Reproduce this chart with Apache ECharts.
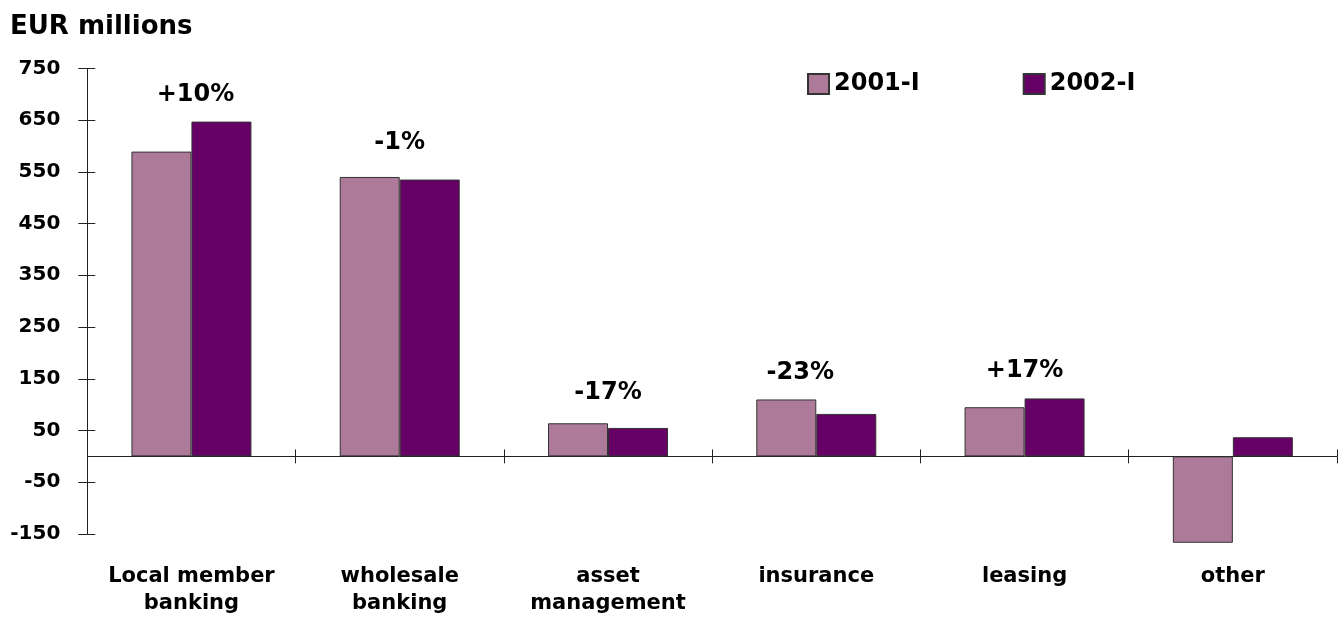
<!DOCTYPE html>
<html>
<head>
<meta charset="utf-8">
<script src="https://cdn.jsdelivr.net/npm/echarts@6/dist/echarts.min.js"></script>
<style>
html,body{margin:0;padding:0;background:#fff;}
#c{width:1344px;height:620px;}
</style>
</head>
<body>
<div id="c"></div>
<script>
const categories = ['Local member\nbanking', 'wholesale\nbanking', 'asset\nmanagement', 'insurance', 'leasing', 'other'];
const series2001 = [589, 540, 64, 110, 95, -167];
const series2002 = [647, 535, 55, 82, 112, 37];
const pctLabels = ['+10%', '-1%', '-17%', '-23%', '+17%', ''];
const pctLabelValues = [698, 607, 123, 161, 166, null];
const seriesNames = ['2001-I', '2002-I'];
const yTicks = { min: -150, max: 750, interval: 100 };

const FONT = 'DejaVu Sans';
const labelOffsets = { 3: [-16, 0], 0: [4, 0] };

const chart = echarts.init(document.getElementById('c'), null, { renderer: 'canvas' });

const pctData = [];
categories.forEach((c, i) => {
  if (pctLabelValues[i] == null) return;
  const item = { value: [i, pctLabelValues[i]], name: pctLabels[i] };
  if (labelOffsets[i]) item.label = { offset: labelOffsets[i] };
  pctData.push(item);
});

const axisCol = '#222';

chart.setOption({
  animation: false,
  backgroundColor: '#fff',
  title: {
    text: 'EUR millions',
    left: 10, top: 14, padding: 0,
    textStyle: { fontFamily: FONT, fontWeight: 'bold', fontSize: 26, color: '#000', lineHeight: 26 }
  },
  legend: {
    data: seriesNames,
    left: 807, top: 72, padding: 0,
    icon: 'rect', itemWidth: 21, itemHeight: 20, itemGap: 103,
    textStyle: { fontFamily: FONT, fontWeight: 'bold', fontSize: 24, color: '#000', lineHeight: 24 }
  },
  grid: { left: 87.3, right: 7, top: 68.3, bottom: 86, containLabel: false, outerBoundsMode: 'none' },
  xAxis: [{
    type: 'category',
    data: categories,
    position: 'bottom',
    boundaryGap: true,
    axisLine: { show: true, onZero: true, lineStyle: { color: axisCol, width: 1 } },
    axisTick: { show: true, length: 7, inside: false, alignWithLabel: false, lineStyle: { color: axisCol } },
    axisLabel: { margin: 29, fontFamily: FONT, fontWeight: 'bold', fontSize: 21, color: '#000', lineHeight: 27, interval: 0, align: 'center' },
    splitLine: { show: false }
  }, {
    type: 'category',
    data: categories,
    position: 'bottom',
    boundaryGap: true,
    axisLine: { show: false, onZero: true },
    axisTick: { show: true, length: 7, inside: true, lineStyle: { color: axisCol } },
    axisLabel: { show: false },
    splitLine: { show: false }
  }],
  yAxis: [{
    type: 'value',
    min: yTicks.min, max: yTicks.max, interval: yTicks.interval,
    position: 'left',
    axisLine: { show: true, onZero: false, lineStyle: { color: axisCol, width: 1 } },
    axisTick: { show: true, length: 9, inside: false, lineStyle: { color: axisCol } },
    axisLabel: { margin: 27, fontFamily: FONT, fontWeight: 'bold', fontSize: 20, color: '#000' },
    splitLine: { show: false }
  }, {
    type: 'value',
    min: yTicks.min, max: yTicks.max, interval: yTicks.interval,
    position: 'left',
    axisLine: { show: false, onZero: false },
    axisTick: { show: true, length: 8, inside: true, lineStyle: { color: axisCol } },
    axisLabel: { show: false },
    splitLine: { show: false }
  }],
  series: [{
    name: seriesNames[0],
    type: 'bar',
    data: series2001,
    barWidth: 60,
    barGap: '0%',
    clip: false,
    itemStyle: { color: '#ad7a9a', borderColor: '#333', borderWidth: 1 }
  }, {
    name: seriesNames[1],
    type: 'bar',
    data: series2002,
    barWidth: 60,
    barGap: '0%',
    clip: false,
    itemStyle: { color: '#660066', borderColor: '#333', borderWidth: 1 }
  }, {
    name: 'pct',
    type: 'scatter',
    data: pctData,
    symbolSize: 0,
    silent: true,
    clip: false,
    itemStyle: { opacity: 1, color: 'rgba(0,0,0,0)' },
    label: {
      show: true, position: 'inside',
      formatter: p => p.name,
      fontFamily: FONT, fontWeight: 'bold', fontSize: 24, color: '#000000',
      textBorderWidth: 0
    }
  }]
});
</script>
</body>
</html>
